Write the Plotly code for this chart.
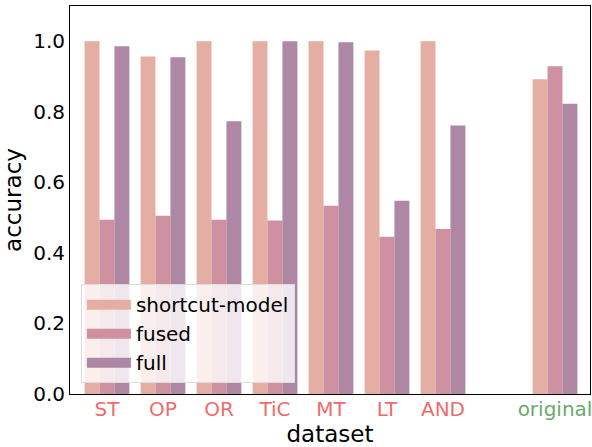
import plotly.graph_objects as go

categories = ["ST", "OP", "OR", "TiC", "MT", "LT", "AND", "original"]
positions = [0, 1, 2, 3, 4, 5, 6, 8]
shortcut_model = [1.0, 0.957, 1.0, 1.0, 1.0, 0.974, 1.0, 0.892]
fused = [0.494, 0.505, 0.494, 0.492, 0.534, 0.446, 0.468, 0.929]
full = [0.986, 0.955, 0.773, 1.0, 0.997, 0.548, 0.761, 0.823]
tick_colors = ["#ef6b6b"] * 7 + ["#6aaa6a"]
y_ticks = [0.0, 0.2, 0.4, 0.6, 0.8, 1.0]

fig = go.Figure()
series = [("shortcut-model", shortcut_model, "#e4aea5"),
          ("fused", fused, "#cf919f"),
          ("full", full, "#ae87a4")]
for name, vals, col in series:
    fig.add_trace(go.Bar(x=positions, y=vals, name=name, showlegend=False,
                         marker=dict(color=col, line=dict(width=0))))
for name, vals, col in series:
    fig.add_trace(go.Scatter(x=[None], y=[None], name=name, mode="lines",
                             legendgroup=name,
                             line=dict(color=col, width=15)))

ticktext = [f"<span style='color:{c}'>{t}</span>" for t, c in zip(categories, tick_colors)]

fig.update_layout(
    width=592, height=447,
    margin=dict(l=70, r=2, t=6, b=53),
    barmode="group", bargap=0.2, bargroupgap=0,
    plot_bgcolor="white", paper_bgcolor="white",
    font=dict(family="DejaVu Sans", size=20, color="black"),
    showlegend=True,
    legend=dict(x=0.021, y=0.028, xanchor="left", yanchor="bottom",
                bgcolor="rgba(255,255,255,0.8)", bordercolor="#dddddd",
                borderwidth=1, font=dict(size=20), tracegroupgap=0,
                itemwidth=44),
    xaxis=dict(range=[-0.66, 8.625], tickvals=positions, ticktext=ticktext,
               showline=True, linecolor="black", linewidth=1, mirror=True,
               ticks="", showgrid=False, zeroline=False, automargin=False,
               tickfont=dict(size=20), ticklabeloverflow="allow",
               ticklabelstandoff=-3,
               title=dict(text="dataset", font=dict(size=23), standoff=4)),
    yaxis=dict(range=[0, 1.1], tickvals=y_ticks, tickformat=".1f",
               showline=True, linecolor="black", linewidth=1, mirror=True,
               ticks="", showgrid=False, zeroline=False, automargin=False,
               tickfont=dict(size=20),
               title=dict(text="accuracy", font=dict(size=23), standoff=6)),
)

fig.write_html("out.html", config={"displayModeBar": False},
               post_script="document.body.style.margin='0';")
